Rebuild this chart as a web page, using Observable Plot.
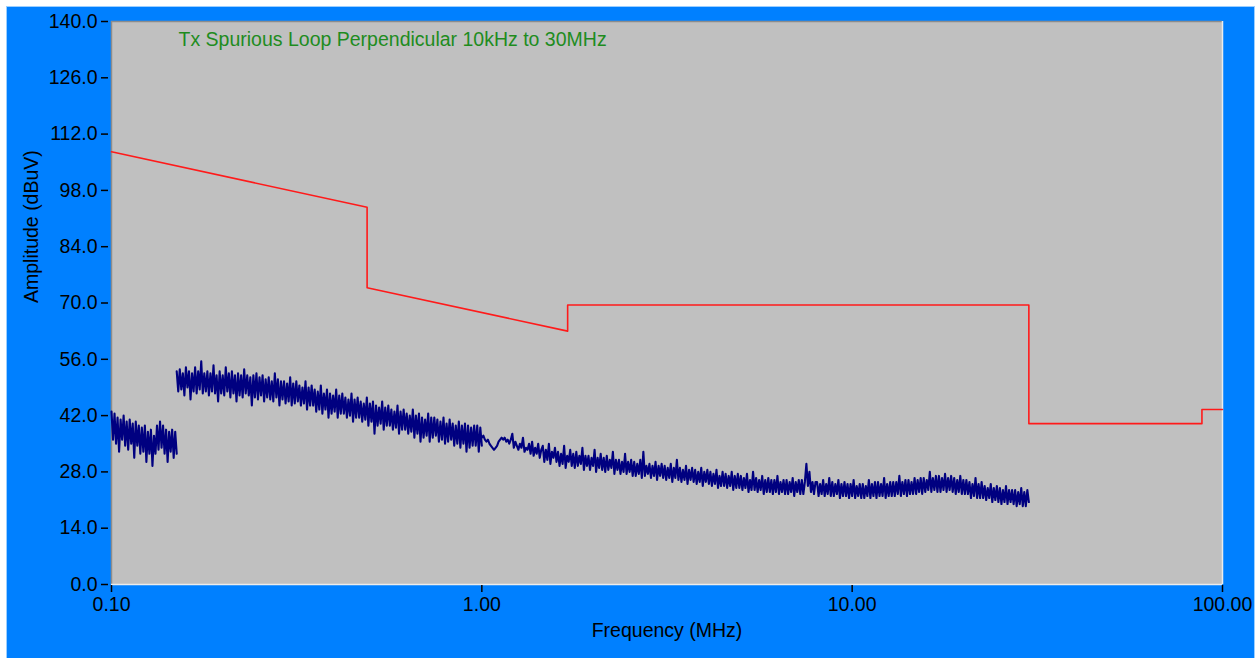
<!DOCTYPE html>
<html><head><meta charset="utf-8">
<script src="https://cdn.jsdelivr.net/npm/d3@7"></script>
<script src="https://cdn.jsdelivr.net/npm/@observablehq/plot@0.6"></script>
<style>
html,body{margin:0;padding:0;background:#fff;}
#wrap{position:absolute;left:6px;top:6px;width:1247px;height:660px;background:#0080ff;border:1px solid #9ccfff;border-bottom:none;overflow:hidden;}
#wrap svg{display:block;}
</style></head><body><div id="wrap"></div>
<script>
const title = "Tx Spurious Loop Perpendicular 10kHz to 30MHz";
const xLabel = "Frequency (MHz)";
const yLabel = "Amplitude (dBuV)";
const xDomain = [0.1, 100];
const yDomain = [0, 140];
const xTicks = [0.1, 1, 10, 100];
const yTicks = [0, 14, 28, 42, 56, 70, 84, 98, 112, 126, 140];

// Limit line (MHz, dBuV)
const limitFreq = [0.1, 0.49, 0.49, 1.705, 1.705, 30, 30, 88, 88, 100];
const limitAmp  = [107.6, 93.8, 73.8, 63.0, 69.5, 69.5, 40.0, 40.0, 43.5, 43.5];

// Measured trace, three sweep segments (start MHz, stop MHz, amplitudes dBuV read across the segment)
const seg1Range = [0.10, 0.15];
const seg1Amp = [43,36,42.5,35,41.5,33,41,36,42,34.5,
  40.5,33.5,41,35,40,31.5,40.5,34.5,39.5,32.5,
  39,33,39.5,30.5,38,32.5,38.5,29.5,37,32.5,
  39.5,33.5,40.5,34,39.5,32.5,38.5,30.5,38,33,
  38.5,31.5,38,32.5];
const seg2Range = [0.15, 1.0];
const seg2Amp = [53,48,53.5,48.5,52.5,47,54,49,53,46,
  52.5,48,54,47.5,53,48.5,55.5,47.5,52.5,48,
  53,47,52.5,48,54.5,47.5,52,45.5,53,47.5,
  52,47,54,48,52.5,46.5,53,47.5,52,45.5,
  52.5,47,52,46.5,53.5,47.5,52,47,51.5,44.5,
  52,46.5,52.5,46,51.5,47,52,45.5,51,46.5,
  51.5,46,50.5,45.5,52.5,46.5,51,44.5,50.5,46,
  50.5,45,50,45.5,51.5,44.5,50,45,50.5,45.5,
  49.5,44.5,49,45,50.5,43.5,49,44.5,49.5,44.5,
  48.5,43,48,43.5,49.5,42.5,47.5,43.5,48.5,41.5,
  47.5,42.5,47,43,48.5,41.5,47,42.5,47.5,42.5,
  46.5,41.5,46,42,47.5,40.5,46,41.5,46.5,41.5,
  45.5,40.5,45,41,46.5,39.5,45,40.5,45.5,37.5,
  44.5,39.5,44,40,45.5,38.5,44,39.5,44.5,39.5,
  43.5,38.5,43,39,44.5,37.5,43,38.5,43.5,38.5,
  42.5,37.5,42,38,43.5,36.5,42,37.5,42.5,35.5,
  41.5,36.5,41,37,42.5,35.5,41.5,36.5,41.5,37,
  41,35.5,40.5,36,41.5,35,40,35.5,41,36,
  40,34.5,39.5,35,40.5,34,39.5,35,40,33,
  39.5,34,39,34.5,39.5,34.5,39.5,33,39,34.5];
const seg3Range = [1.0, 30.0];
const seg3Amp = [36.5,37,36,35.5,36,35,34.5,34,33.5,34,
  34.5,35.5,36,36.5,36,36.5,35.5,36,35,36,
  37.5,34,35.5,34.5,33.5,35,34,36.5,33,34,
  33.5,35,32.5,35.5,32,34,32.5,35,31.5,33.5,
  34.5,30.5,33.5,31,35,30,33,31.5,34,30.5,
  33,29.5,32.5,30,34.5,29,32,30.5,33.5,29.5,
  32.5,29,33,29.5,32,30,34,28.5,32,29.5,
  32,28.5,31.5,29.5,33.5,28,31.5,29,32.5,28.5,
  31.5,28,32,28.5,31,29,33,27.5,31,28.5,
  31,27.5,30.5,28,32.5,27.5,30.5,28,31,27,
  30.5,27,30,27.5,31,26.5,33,27,29.5,27.5,
  30,26.5,29.5,27,30.5,26,29.5,27,30,26.5,
  29.5,26,29,26.5,30,25.5,29,26.5,31,26,
  29,25.5,28.5,26,29.5,25,28.5,26,29,25.5,
  28.5,25,28,25.5,29,24.5,28,25.5,28.5,25,
  28,24.5,27.5,25,28.5,24,27,24.5,28,24.5,
  27.5,24,27,24.5,28,23.5,27,24,27.5,24,
  27,23.5,26.5,24,27.5,23,26,23.5,28,23.5,
  26.5,23,26,23.5,27,22.5,26,23,26.5,23,
  26,22.5,26,23,27,22.5,25.5,23,26,22.5,
  26,22.5,25.5,23,26.5,22,25.5,23,26,22.5,
  26,22.5,25.5,30,24.5,28,23,25.5,22.5,25.5,
  25.5,22,25,22.5,26,22,25,22.5,26.5,22,
  25.5,22,25,22.5,26,21.5,25,22,25.5,22,
  25,21.5,25,22,26,21.5,24.5,22,25,21.5,
  25,21.5,24.5,22,26,21.5,25,22,25.5,21.5,
  25.5,22,25,22,26.5,21.5,25,22,25.5,22,
  25.5,22,25.5,22.5,27,22,25.5,22.5,26,22,
  26,22.5,25.5,22.5,26.5,22.5,26,23,26.5,22.5,
  26.5,23,26,23.5,28,23,26.5,23.5,27,23,
  27,23,26.5,23.5,27.5,23,26.5,23.5,27,23,
  26.5,22.5,26,23,27,22.5,26,22.5,26,22.5,
  25.5,21.5,25,22,26.5,21.5,25,21.5,25.5,21.5,
  24.5,21,24,21.5,25,20.5,24,21,24.5,20.5,
  24,20,23.5,20.5,24.5,20,23.5,20.5,23.5,20,
  23.5,19.5,23,20,24,19.5,23,19.5,23.5,20.5];

const segments = [
  {range: seg1Range, amp: seg1Amp},
  {range: seg2Range, amp: seg2Amp},
  {range: seg3Range, amp: seg3Amp}
];
const trace = [];
segments.forEach((s, k) => {
  const [a, b] = s.range, n = s.amp.length;
  s.amp.forEach((v, i) => trace.push({seg: k, f: a * Math.pow(b / a, i / (n - 1)), v}));
});
const limit = limitFreq.map((f, i) => ({f, v: limitAmp[i]}));

const font = "'Liberation Sans', Arial, sans-serif";
const fs = 19.5;
const chart = Plot.plot({
  width: 1246, height: 651,
  marginLeft: 104, marginRight: 31, marginTop: 14, marginBottom: 74,
  style: {background: "#0080ff", fontFamily: font, fontSize: fs + "px", color: "#000", overflow: "visible"},
  x: {type: "log", domain: xDomain},
  y: {domain: yDomain},
  marks: [
    Plot.frame({fill: "#c0c0c0", stroke: null}),
    Plot.ruleX([xDomain[0]], {stroke: "#8c8c8c", strokeWidth: 1.5}),
    Plot.ruleY([yDomain[1]], {stroke: "#8c8c8c", strokeWidth: 1.5}),
    Plot.ruleX([xDomain[1]], {stroke: "#ececec", strokeWidth: 1.5}),
    Plot.ruleY([yDomain[0]], {stroke: "#ececec", strokeWidth: 1.5}),
    Plot.axisY({ticks: yTicks, tickFormat: d => d.toFixed(1), tickSize: 7, tickPadding: 4, dx: -3, label: null, stroke: "#000", fill: "#000", strokeWidth: 1.5, fontSize: fs}),
    Plot.axisX({ticks: xTicks, tickFormat: d => d.toFixed(2), tickSize: 7, tickPadding: 5, dy: 1, label: null, stroke: "#000", fill: "#000", strokeWidth: 1.5, fontSize: fs}),
    Plot.line(limit, {x: "f", y: "v", stroke: "#ff1a1a", strokeWidth: 1.6}),
    Plot.line(trace, {x: "f", y: "v", z: "seg", stroke: "#000080", strokeWidth: 2.1}),
    Plot.text([title], {text: d => d, frameAnchor: "top-left", dx: 67, dy: 11, textAnchor: "start", lineAnchor: "top", fill: "#1e8c1e", fontSize: fs}),
    Plot.text([yLabel], {text: d => d, frameAnchor: "left", rotate: -90, dx: -80, fill: "#000", fontSize: fs}),
    Plot.text([xLabel], {text: d => d, frameAnchor: "bottom", dy: 52, fill: "#000", fontSize: fs})
  ]
});
document.getElementById("wrap").appendChild(chart);
</script></body></html>
